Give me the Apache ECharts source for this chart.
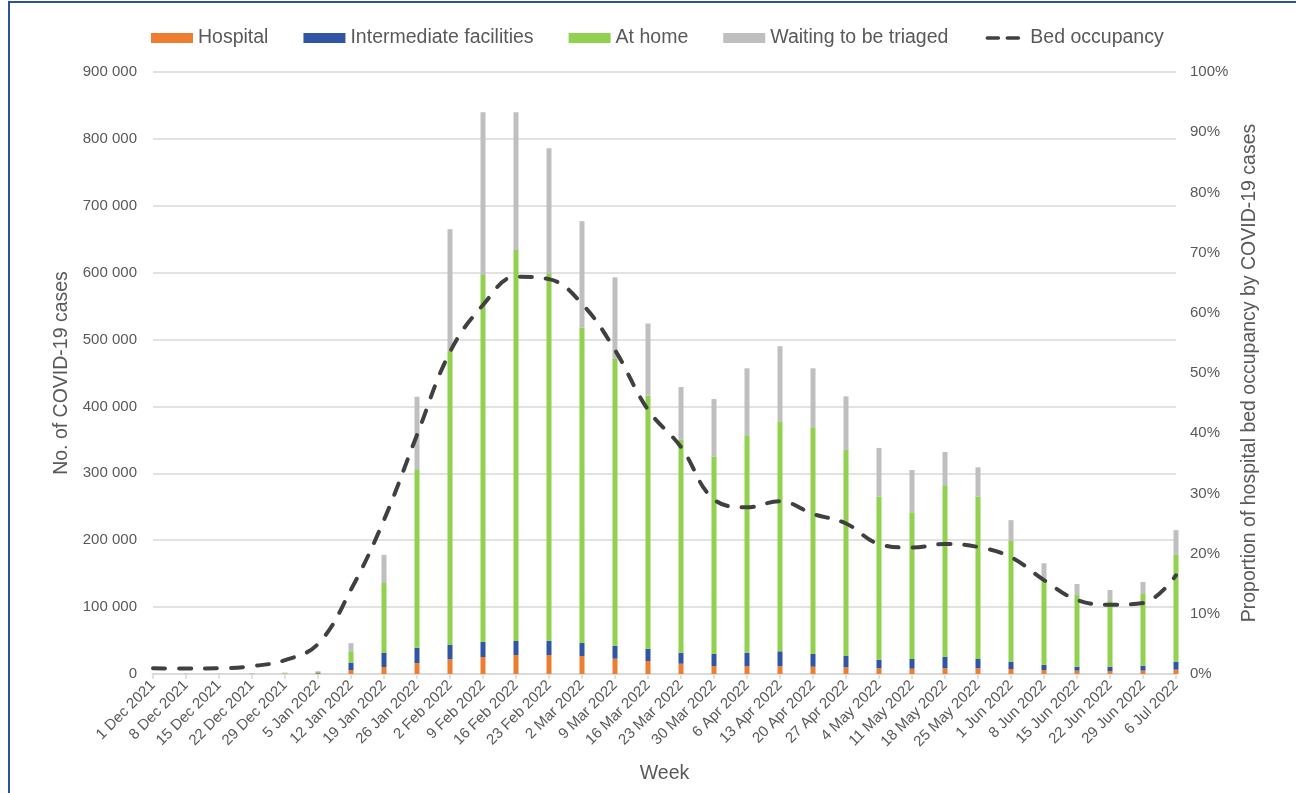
<!DOCTYPE html>
<html>
<head>
<meta charset="utf-8">
<script src="https://cdn.jsdelivr.net/npm/echarts@6/dist/echarts.min.js"></script>
<style>
html,body{margin:0;padding:0;background:#fff;overflow:hidden;}
#chart{width:1296px;height:793px;position:absolute;left:0;top:0;}
#frame{position:absolute;left:8px;top:1px;width:1300px;height:800px;border-left:2px solid #2f4f9f;border-top:2px solid #2f4f9f;pointer-events:none;}
</style>
</head>
<body>
<div id="chart"></div>
<div id="frame"></div>
<script>
const weeks = ['1 Dec 2021','8 Dec 2021','15 Dec 2021','22 Dec 2021','29 Dec 2021','5 Jan 2022','12 Jan 2022','19 Jan 2022','26 Jan 2022','2 Feb 2022','9 Feb 2022','16 Feb 2022','23 Feb 2022','2 Mar 2022','9 Mar 2022','16 Mar 2022','23 Mar 2022','30 Mar 2022','6 Apr 2022','13 Apr 2022','20 Apr 2022','27 Apr 2022','4 May 2022','11 May 2022','18 May 2022','25 May 2022','1 Jun 2022','8 Jun 2022','15 Jun 2022','22 Jun 2022','29 Jun 2022','6 Jul 2022'];
const hospital = [100,100,100,200,300,800,6000,10500,16400,22000,25400,28400,28400,26900,22900,19400,15400,12000,11500,11500,10900,10000,8500,7900,8500,8500,7500,6000,5000,4500,5000,6500];
const intermediate = [50,50,50,100,200,700,11000,21500,22900,21400,22400,20900,21400,19400,19400,18400,16400,17900,20300,22400,19000,16900,12900,14500,17400,13900,10900,7900,5900,6400,7400,11900];
const atHome = [100,100,100,400,800,2000,17000,104000,265700,439600,548700,584700,549200,471400,428700,378200,318200,295100,325200,344100,339100,308100,243600,219600,255100,242600,180600,129100,107100,98100,107200,159600];
const waiting = [0,0,0,300,700,1000,12000,42000,109600,182000,243500,206000,187000,159300,122000,108000,79000,86000,100000,112000,88000,80000,73000,63000,51000,44000,31000,22500,16500,16600,17900,37000];
const bedOccupancy = [0.95,0.9,0.95,1.3,2.3,5.0,14.0,25.6,39.7,53.5,61.3,66.0,65.6,61.5,53.8,43.9,37.7,29.0,27.7,28.7,26.6,25.0,21.6,21.0,21.6,21.1,19.4,15.6,12.3,11.5,11.8,16.4];

const FONT = 'Liberation Sans, Arial, sans-serif';
const TXT = '#595959';
const chart = echarts.init(document.getElementById('chart'), null, {renderer:'canvas'});
const barW = 5;
function barSeries(name, data, color){
  return {name, type:'bar', stack:'cases', data, barWidth:barW, itemStyle:{color}, emphasis:{disabled:true}};
}
const dashIcon = 'path://M0,0L0.05,0L0.05,0.05Z M42,10L41.95,10L41.95,9.95Z M4,3.2L15,3.2A1.8,1.8 0 0 1 15,6.8L4,6.8A1.8,1.8 0 0 1 4,3.2Z M24,3.2L35,3.2A1.8,1.8 0 0 1 35,6.8L24,6.8A1.8,1.8 0 0 1 24,3.2Z';
chart.setOption({
  animation:false,
  textStyle:{fontFamily:FONT, color:TXT},
  legend:{
    left:146, top:23, itemWidth:42, itemHeight:10, itemGap:35,
    textStyle:{fontSize:19.5, color:TXT, fontFamily:FONT},
    data:[
      {name:'Hospital', icon:'rect'},
      {name:'Intermediate facilities', icon:'rect'},
      {name:'At home', icon:'rect'},
      {name:'Waiting to be triaged', icon:'rect'},
      {name:'Bed occupancy', icon:dashIcon, itemStyle:{color:'#404040', borderWidth:0}}
    ]
  },
  grid:{left:153, right:120, top:72, bottom:119, containLabel:false},
  xAxis:{
    type:'category', data:weeks, boundaryGap:false,
    name:'Week', nameLocation:'middle', nameGap:90,
    nameTextStyle:{fontSize:19.5, color:TXT, fontFamily:FONT},
    axisLine:{lineStyle:{color:'#d9d9d9', width:1.5}},
    axisTick:{show:true, length:5, lineStyle:{color:'#d9d9d9', width:1.5}},
    axisLabel:{rotate:45, fontSize:15, color:TXT, margin:9, interval:0, fontFamily:FONT},
    splitLine:{show:false}
  },
  yAxis:[
    {
      type:'value', min:0, max:900000, interval:100000,
      name:'No. of COVID-19 cases', nameLocation:'middle', nameGap:65,
      nameTextStyle:{fontSize:19.5, color:TXT, fontFamily:FONT},
      axisLine:{show:false}, axisTick:{show:false},
      axisLabel:{fontSize:15, color:TXT, margin:16, fontFamily:FONT,
        formatter:v=>v===0?'0':String(v).replace(/\B(?=(\d{3})+(?!\d))/g,' ')},
      splitLine:{lineStyle:{color:'#d9d9d9', width:1.5}}
    },
    {
      type:'value', min:0, max:100, interval:10, position:'right',
      name:'Proportion of hospital bed occupancy by COVID-19 cases', nameLocation:'middle', nameGap:56,
      nameRotate:90,
      nameTextStyle:{fontSize:19.5, color:TXT, fontFamily:FONT},
      axisLine:{show:false}, axisTick:{show:false},
      axisLabel:{fontSize:15, color:TXT, margin:14, fontFamily:FONT, formatter:v=>v+'%'},
      splitLine:{show:false}
    }
  ],
  series:[
    barSeries('Hospital', hospital, '#ED7D31'),
    barSeries('Intermediate facilities', intermediate, '#2F55A4'),
    barSeries('At home', atHome, '#92D050'),
    barSeries('Waiting to be triaged', waiting, '#BFBFBF'),
    {
      name:'Bed occupancy', type:'line', yAxisIndex:1, data:bedOccupancy,
      smooth:0.4, showSymbol:false, symbol:'none', z:5,
      lineStyle:{color:'#404040', width:4, type:[12,14], cap:'round'},
      itemStyle:{color:'#404040'}, emphasis:{disabled:true}
    }
  ]
});
</script>
</body>
</html>
